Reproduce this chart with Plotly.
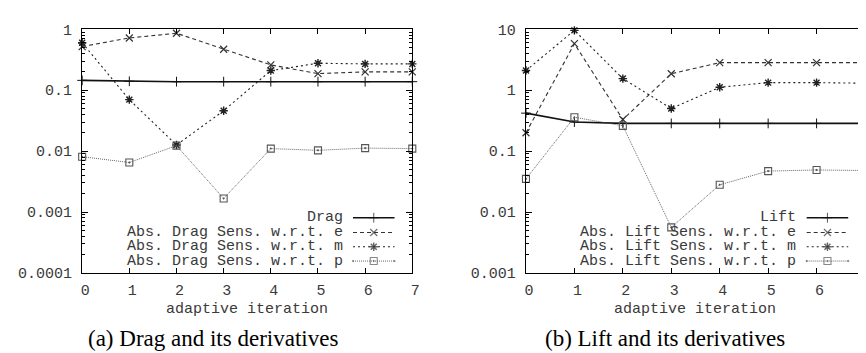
import plotly.graph_objects as go

W, H = 866, 353

# ---------------- data ----------------
iterations = [0, 1, 2, 3, 4, 5, 6, 7]

drag = [0.145, 0.140, 0.138, 0.138, 0.138, 0.138, 0.138, 0.138]
drag_sens_e = [0.52, 0.72, 0.86, 0.47, 0.26, 0.187, 0.20, 0.20]
drag_sens_m = [0.60, 0.070, 0.0126, 0.046, 0.21, 0.277, 0.27, 0.27]
drag_sens_p = [0.0081, 0.0065, 0.0123, 0.00167, 0.011, 0.0103, 0.0112, 0.011]

lift = [0.42, 0.30, 0.285, 0.285, 0.285, 0.285, 0.285, 0.285]
lift_sens_e = [0.20, 5.8, 0.33, 1.86, 2.84, 2.84, 2.84, 2.84]
lift_sens_m = [2.1, 9.6, 1.55, 0.50, 1.12, 1.33, 1.33, 1.30]
lift_sens_p = [0.035, 0.36, 0.26, 0.0056, 0.028, 0.047, 0.049, 0.048]

drag_names = ["Drag", "Abs. Drag Sens. w.r.t. e", "Abs. Drag Sens. w.r.t. m", "Abs. Drag Sens. w.r.t. p"]
lift_names = ["Lift", "Abs. Lift Sens. w.r.t. e", "Abs. Lift Sens. w.r.t. m", "Abs. Lift Sens. w.r.t. p"]

left_yticks = [1e-4, 1e-3, 1e-2, 1e-1, 1]
left_yticktext = ["0.0001", "0.001", "0.01", "0.1", "1"]
right_yticks = [1e-3, 1e-2, 1e-1, 1, 10]
right_yticktext = ["0.001", "0.01", "0.1", "1", "10"]

captions = ["(a) Drag and its derivatives", "(b) Lift and its derivatives"]
xtitle = "adaptive iteration"

# ---------------- styles ----------------
MONO = "Liberation Mono, Courier New, DejaVu Sans Mono, monospace"
SERIF = "Liberation Serif, Times New Roman, serif"
TXT = "#3a3a3a"
styles = [
    dict(line=dict(color="#111111", width=1.6, dash="solid"), marker=dict(symbol="cross-thin-open", size=7, line=dict(color="#111111", width=1))),
    dict(line=dict(color="#333333", width=1.1, dash="4px,3px"), marker=dict(symbol="x-thin-open", size=7, line=dict(color="#111111", width=1.2))),
    dict(line=dict(color="#222222", width=1.1, dash="2px,3px"), marker=dict(symbol="asterisk-open", size=7, line=dict(color="#000000", width=1.4))),
    dict(line=dict(color="#555555", width=0.9, dash="1px,1px"), marker=dict(symbol="square-open-dot", size=7, line=dict(color="#222222", width=1.1))),
]

fig = go.Figure()

def px_x(p):
    return p / W

def px_y(p):
    return 1 - p / H

# panel geometry (pixels)
panels = [
    dict(x0=73, x1=407, ax="x", ay="y", series=[drag, drag_sens_e, drag_sens_m, drag_sens_p], names=drag_names,
         yrange=[-4, 0], yt=left_yticks, ytt=left_yticktext, xtv=[0, 1, 2, 3, 4, 5, 6, 7],
         leg_text_right=339, leg_s0=347, leg_s1=389, cap=captions[0], capx=205),
    dict(x0=522, x1=865, ax="x2", ay="y2", series=[lift, lift_sens_e, lift_sens_m, lift_sens_p], names=lift_names,
         yrange=[-3, 1], yt=right_yticks, ytt=right_yticktext, xtv=[0, 1, 2, 3, 4, 5, 6],
         leg_text_right=797, leg_s0=806, leg_s1=848, cap=captions[1], capx=663),
]
Y_TOP, Y_BOT = 15, 271
leg_rows = [213, 228.5, 243.5, 258.5]

for i, pn in enumerate(panels):
    for s, (vals, name) in enumerate(zip(pn["series"], pn["names"])):
        st = styles[s]
        fig.add_trace(go.Scatter(x=iterations, y=vals, mode="lines+markers", name=name,
                                 line=st["line"], marker=st["marker"], xaxis=pn["ax"], yaxis=pn["ay"],
                                 showlegend=False, cliponaxis=False))
    suffix = "" if i == 0 else "2"
    minor_vals = []
    for d in range(pn["yrange"][0], pn["yrange"][1]):
        for k in range(2, 10):
            minor_vals.append(k * 10 ** d)
    fig.layout["xaxis" + suffix] = dict(
        domain=[px_x(pn["x0"]), px_x(pn["x1"])], range=[0, 7], tickvals=pn["xtv"],
        ticks="inside", ticklen=5, tickwidth=1, tickcolor="#000", mirror="ticks",
        showline=True, linecolor="#000", linewidth=1.2, showgrid=False, zeroline=False,
        anchor="y" + suffix, tickfont=dict(family=MONO, size=15, color=TXT),
        ticklabelshift=3, ticklabelstandoff=3, fixedrange=True)
    fig.layout["yaxis" + suffix] = dict(
        domain=[px_y(Y_BOT), px_y(Y_TOP)], type="log", range=pn["yrange"],
        tickvals=pn["yt"], ticktext=pn["ytt"],
        ticks="inside", ticklen=6, tickwidth=1, tickcolor="#000", mirror="ticks",
        minor=dict(tickvals=minor_vals, ticks="inside", ticklen=3, tickwidth=1, tickcolor="#000", showgrid=False),
        showline=True, linecolor="#000", linewidth=1.2, showgrid=False, zeroline=False,
        anchor="x" + suffix, tickfont=dict(family=MONO, size=15, color=TXT),
        ticklabelstandoff=6, fixedrange=True)
    # x-axis title and caption
    xc = (pn["x0"] + pn["x1"]) / 2
    fig.add_annotation(x=px_x(xc), y=px_y(309), xref="paper", yref="paper", text=xtitle,
                       showarrow=False, xanchor="center", yanchor="middle",
                       font=dict(family=MONO, size=15, color=TXT))
    fig.add_annotation(x=px_x(pn["capx"]), y=px_y(340), xref="paper", yref="paper", text=pn["cap"],
                       showarrow=False, xanchor="center", yanchor="middle",
                       font=dict(family=SERIF, size=23, color="#000"))
    # manual gnuplot-style legend: text on the left, sample on the right
    for s, name in enumerate(pn["names"]):
        yrow = leg_rows[s]
        fig.add_annotation(x=px_x(pn["leg_text_right"]), y=px_y(yrow), xref="paper", yref="paper", text=name,
                           showarrow=False, xanchor="right", yanchor="middle",
                           font=dict(family=MONO, size=15, color=TXT))
        st = styles[s]
        xm = (pn["leg_s0"] + pn["leg_s1"]) / 2
        fig.add_trace(go.Scatter(x=[pn["leg_s0"], xm, pn["leg_s1"]], y=[yrow] * 3, mode="lines+markers",
                                 line=st["line"], marker=dict(st["marker"], size=[0, 7, 0]),
                                 xaxis="x3", yaxis="y3", showlegend=False, hoverinfo="skip"))

fig.layout["xaxis3"] = dict(domain=[0, 1], range=[0, W], visible=False, anchor="y3", fixedrange=True)
fig.layout["yaxis3"] = dict(domain=[0, 1], range=[H, 0], visible=False, anchor="x3", fixedrange=True)

fig.update_layout(width=W, height=H, margin=dict(l=0, r=0, t=0, b=0),
                  paper_bgcolor="white", plot_bgcolor="rgba(0,0,0,0)", showlegend=False)

fig.write_html("out.html")
